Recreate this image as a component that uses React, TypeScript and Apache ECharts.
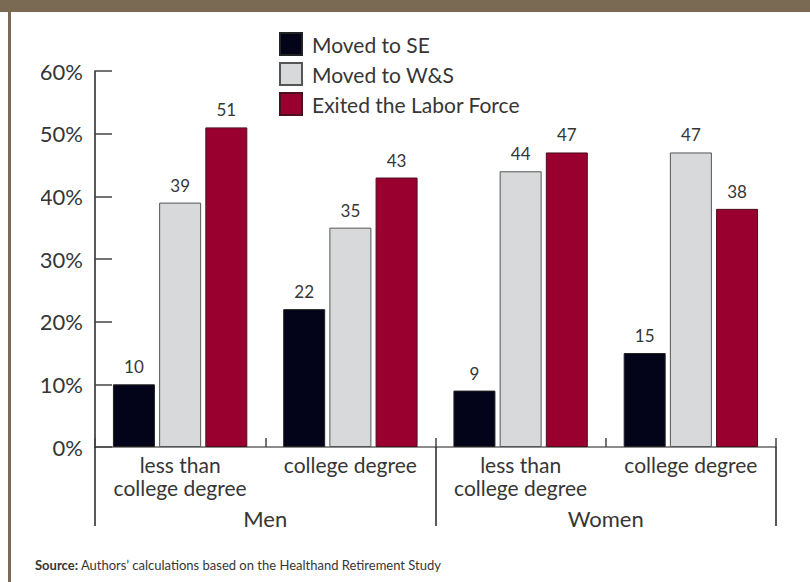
import React, { useEffect, useRef } from "react";
import * as echarts from "echarts";

const categories = ["less than\ncollege degree", "college degree", "less than\ncollege degree", "college degree"];
const groups = ["Men", "Women"];
const seriesNames = ["Moved to SE", "Moved to W&S", "Exited the Labor Force"];
const movedToSE = [10, 22, 9, 15];
const movedToWS = [39, 35, 44, 47];
const exitedLF = [51, 43, 47, 38];
const yTicks = { min: 0, max: 60, interval: 10 };
const sourceText = "Authors’ calculations based on the Healthand Retirement Study";

const FONT = "Lato, 'Open Sans', sans-serif";
const TXT = "#363636";

export default function App() {
  const ref = useRef<HTMLDivElement>(null);
  useEffect(() => {
    if (!ref.current) return;
    const chart = echarts.init(ref.current, undefined, { renderer: "svg" });
    const grid = { left: 95, right: 34, top: 71, bottom: 135 };
    const label = {
      show: true,
      position: "top",
      distance: 9,
      fontSize: 17,
      fontFamily: FONT,
      color: TXT,
    };
    const colors = ["#03031a", "#d8d9db", "#990030"];
    const borders = ["#222", "#555", "#4a1020"];
    const datas = [movedToSE, movedToWS, exitedLF];
    chart.setOption({
      animation: false,
      textStyle: { fontFamily: FONT },
      grid: [grid, { ...grid }],
      legend: {
        orient: "vertical",
        left: 279,
        top: 32,
        padding: 0,
        itemWidth: 22,
        itemHeight: 22,
        itemGap: 6,
        icon: "rect",
        selectedMode: false,
        data: seriesNames,
        textStyle: { fontSize: 21, lineHeight: 22, fontFamily: FONT, color: TXT, padding: [0, 0, 0, 5] },
      },
      xAxis: [
        {
          type: "category",
          gridIndex: 0,
          data: categories,
          position: "bottom",
          axisLine: { show: true, lineStyle: { color: "#666", width: 1.5 } },
          axisTick: { show: true, inside: true, length: 9, lineStyle: { color: "#444", width: 1.5 } },
          axisLabel: { interval: 0, fontSize: 21, lineHeight: 23, margin: 6, color: TXT, fontFamily: FONT },
        },
        {
          type: "category",
          gridIndex: 1,
          data: groups,
          position: "bottom",
          axisLine: { show: false },
          axisTick: { show: true, inside: false, length: 79, lineStyle: { color: "#222", width: 1.5 } },
          axisLabel: { fontSize: 22, margin: 60, color: TXT, fontFamily: FONT },
        },
      ],
      yAxis: [
        {
          type: "value",
          gridIndex: 0,
          min: yTicks.min,
          max: yTicks.max,
          interval: yTicks.interval,
          axisLine: { show: true, lineStyle: { color: "#222", width: 1.5 } },
          axisTick: { show: true, inside: true, length: 17, lineStyle: { color: "#444", width: 1.5 } },
          splitLine: { show: false },
          axisLabel: { formatter: "{value}%", fontSize: 22, margin: 12, color: TXT, fontFamily: FONT },
        },
        { type: "value", gridIndex: 1, show: false, min: 0, max: 60 },
      ],
      series: seriesNames.map((name, i) => ({
        name,
        type: "bar",
        xAxisIndex: 0,
        yAxisIndex: 0,
        data: datas[i],
        barWidth: 42,
        barGap: "10%",
        itemStyle: { color: colors[i], borderColor: borders[i], borderWidth: 1 },
        label,
      })),
      graphic: [
        { type: "rect", shape: { x: 0, y: 0, width: 810, height: 12 }, style: { fill: "#7b6a53" }, z: 100 },
        { type: "rect", shape: { x: 8, y: 12, width: 3, height: 570 }, style: { fill: "#7b6a53" }, z: 100 },
        { type: "rect", shape: { x: 12, y: 55, width: 29, height: 285 }, style: { fill: "#ffffff" }, z: 100 },
        {
          type: "text",
          x: 35,
          y: 558,
          z: 100,
          style: {
            text: "{b|Source:} " + sourceText,
            fontSize: 13,
            fontFamily: FONT,
            fill: TXT,
            rich: { b: { fontWeight: "bold", fontSize: 13, fontFamily: FONT, fill: TXT } },
          },
        },
      ],
    });
    return () => chart.dispose();
  }, []);
  return (
    <div
      ref={ref}
      style={{ position: "fixed", left: 0, top: 0, width: 810, height: 582, background: "#fff" }}
    />
  );
}
